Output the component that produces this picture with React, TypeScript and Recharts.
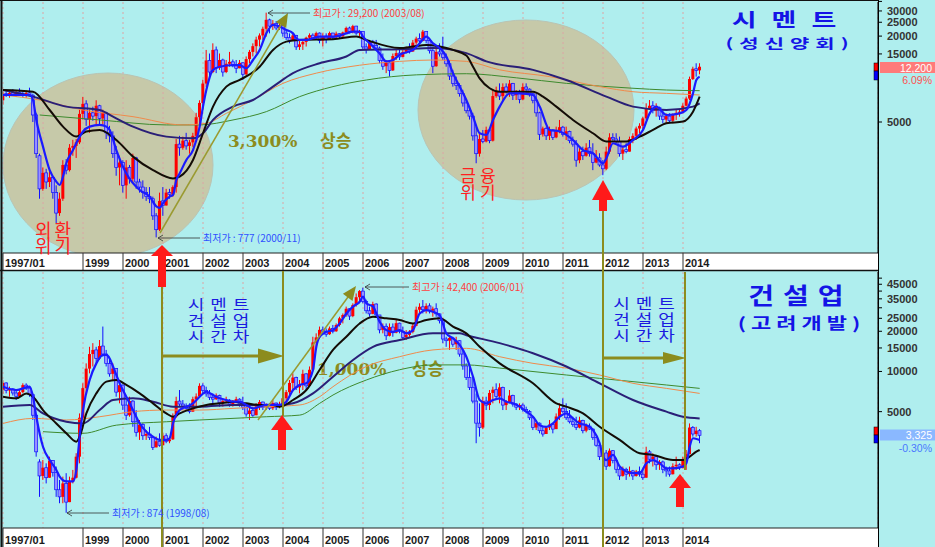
import React from 'react';
import { Bar, CartesianGrid, ComposedChart, Line, XAxis, YAxis } from 'recharts';

// months since 1997/01 on the x axis
const years = [1997, 1998, 1999, 2000, 2001, 2002, 2003, 2004, 2005, 2006, 2007, 2008, 2009, 2010, 2011, 2012, 2013, 2014];
const yearTicks = years.map((y) => (y - 1997) * 12);

// 성신양회 monthly candles [open, high, low, close]
const cementOhlc: number[][] = [
  [7100,8300,6600,7900],[7900,8400,7500,7700],[7700,8200,7400,8000],[8000,8500,7600,7800],[7800,8300,7500,8100],[8100,8600,7700,7900],[7900,8200,7500,7700],[7700,8300,7400,8000],[8000,8700,7600,7700],[7700,7900,5000,5600],[5600,5800,2800,3000],[2900,3000,1450,1700],
  [1700,2400,1650,2200],[2200,2350,1700,1900],[1900,2300,1750,2050],[2050,2100,1450,1600],[1600,1800,980,1150],[1150,1600,1100,1450],[1450,2700,1400,2500],[2500,2750,2150,2300],[2300,3500,2250,3300],[3300,3750,2900,3400],[3400,3800,2800,3600],[3600,6100,3500,5700],
  [5700,7500,5200,6700],[6700,7100,4700,5200],[5200,6100,4200,5800],[5800,6400,5100,5500],[5500,7100,4700,6500],[6500,6600,4700,5300],[5300,6100,4800,5800],[5800,5900,3800,4200],[4200,4700,3600,4000],[4000,4300,2800,3000],[3000,3400,2100,2400],[2400,2900,1800,2600],
  [2600,2700,1600,1800],[1800,2700,1450,2400],[2400,2500,1850,2000],[2000,3000,1900,2800],[2800,2850,1700,1900],[1900,2000,1600,1750],[1750,1950,1450,1600],[1600,1750,1400,1500],[1500,1750,1350,1450],[1450,1500,1030,1100],[1100,1150,777,880],[880,1600,860,1400],
  [1400,1750,1100,1300],[1300,1700,1300,1600],[1600,1700,1450,1550],[1550,1800,1500,1750],[1750,3800,1600,3500],[3500,4000,2900,3300],[3300,3950,3200,3700],[3700,4200,3200,3400],[3400,3750,3000,3600],[3600,4200,3350,4000],[4000,5800,3700,5400],[5400,7100,4700,6800],
  [6800,9900,6100,9300],[9300,16000,8800,13500],[13500,15100,10400,11200],[11200,17800,11000,16000],[16000,16900,11000,12000],[12000,15100,11600,13600],[13600,13900,10400,11200],[11200,13600,11000,12800],[12800,15500,12200,13200],[13200,13700,12100,12400],[12400,13600,11000,11900],[11900,13600,11900,13000],
  [13000,13100,9850,10800],[10800,14400,10600,13800],[13800,16000,12900,15500],[15500,17800,14400,17000],[17000,19800,15100,18900],[18900,20900,16900,20200],[20200,23300,18800,22500],[22500,29200,19800,26000],[26000,26500,20900,23500],[23500,25900,22100,24500],[24500,25500,22000,22800],[22800,24600,22100,23800],
  [23800,23900,19800,21000],[21000,22100,18800,19500],[19500,20900,17800,18500],[18500,20900,18400,20200],[20200,20400,16000,16800],[16800,18800,16000,17500],[17500,18800,16000,18200],[18200,19800,16900,19500],[19500,20900,18800,20300],[20300,20900,18800,19400],[19400,21500,18800,21000],[21000,21200,17800,18600],
  [18600,20900,16900,20000],[20000,20900,17800,18900],[18900,21500,18800,21000],[21000,21100,18800,19600],[19600,21500,19300,20800],[20800,20900,19300,19900],[19900,21500,19800,21200],[21200,23300,20900,22800],[22800,23300,20900,21500],[21500,24000,20900,23500],[23500,23600,20400,21000],[21000,22100,19800,21600],
  [21600,21700,16000,16800],[16800,17800,15100,16200],[16200,18800,16000,18200],[18200,18800,16900,17200],[17200,18800,16000,16500],[16500,16900,12900,13500],[13500,15100,11600,12300],[12300,13600,11000,13000],[13000,13500,10400,11500],[11500,15100,11400,14500],[14500,16000,13600,15200],[15200,16000,13600,14300],
  [14300,16000,14200,15500],[15500,16900,15100,16300],[16300,17800,15100,15600],[15600,18800,15500,18000],[18000,19800,16900,19200],[19200,20900,17800,18500],[18500,22100,18400,21500],[21500,21600,17800,18600],[18600,18700,15100,15800],[15800,16900,11000,12300],[12300,16900,12200,15500],[15500,17800,14400,15000],
  [15000,19800,13600,14200],[14200,15100,12200,12800],[12800,13600,9850,10500],[10500,11600,8850,9300],[9300,10400,8380,9000],[9000,9330,7530,7900],[7900,8400,6410,6800],[6800,7130,5750,6000],[6000,6400,5200,5500],[5500,5800,3700,4000],[4000,4600,2570,3000],[3000,4170,2860,3800],
  [3800,4400,3550,3650],[3650,4640,3600,4400],[4400,4450,3550,3700],[3700,8380,3650,7600],[7600,8850,7400,8200],[8200,9330,7130,7600],[7600,9330,7100,8800],[8800,9330,7900,8200],[8200,9850,7500,9300],[9300,9400,7130,7700],[7700,8380,7130,8000],[8000,8400,6760,7200],
  [7200,9330,7100,8800],[8800,9330,7940,8500],[8500,8600,7530,7900],[7900,8000,6760,7100],[7100,7940,5450,5800],[5800,5900,3740,4100],[4100,4640,3950,4500],[4500,4640,3740,4000],[4000,4640,3740,4400],[4400,4450,3740,3900],[3900,4640,3850,4300],[4300,5170,4170,4600],
  [4600,4700,3950,4100],[4100,4640,3740,4300],[4300,4350,3550,3700],[3700,3950,3360,3500],[3500,3740,2430,2700],[2700,3360,2570,3100],[3100,3360,2710,2900],[2900,3550,2860,3300],[3300,3740,2860,3000],[3000,3550,2300,2600],[2600,3180,2570,2800],[2800,3020,2430,2500],
  [2500,2710,2120,2350],[2350,3360,2300,3100],[3100,4170,3000,3900],[3900,4170,3700,3800],[3800,4170,3550,3650],[3650,3950,2860,3000],[3000,3360,2710,3200],[3200,3550,3020,3100],[3100,3950,3100,3800],[3800,4170,3550,4000],[4000,4640,3740,4500],[4500,4900,4170,4700],
  [4700,5450,4400,5300],[5300,6760,5170,6200],[6200,7130,6070,6500],[6500,7000,5750,6000],[6000,6760,5450,6300],[6300,6410,5170,5500],[5500,6070,4900,5200],[5200,5750,4900,5500],[5500,5750,4900,5100],[5100,5750,4900,5600],[5600,6070,5170,5800],[5800,6070,5450,5900],
  [5900,6760,5750,6500],[6500,7530,6410,7300],[7300,10400,7130,10000],[10000,12200,9850,11800],[11800,12900,10400,11500],[11500,12900,10800,12200],
];

// moving averages: [month, value]
const cementMa5 = [[0,7730],[4,7730],[8,7730],[9,7130],[10,5170],[12,3360],[14,2300],[16,1910],[17,1810],[18,2070],[19,2570],[21,3180],[23,3950],[24,4290],[26,4640],[29,4770],[31,4640],[32,4400],[34,3180],[37,2180],[41,1670],[44,1500],[46,1280],[47,1250],[48,1350],[50,1500],[51,1540],[52,1960],[53,2180],[55,2710],[57,3180],[59,4640],[60,6410],[61,8380],[63,11600],[65,12200],[69,12500],[71,12500],[73,11900],[75,13600],[77,16000],[79,20900],[81,24000],[83,23300],[85,22100],[87,20900],[88,19300],[89,18800],[91,18800],[93,19300],[95,19800],[99,19800],[103,20900],[105,21500],[107,21500],[108,19800],[110,17800],[113,15100],[115,13300],[117,13600],[119,14800],[123,16000],[125,17800],[127,19800],[129,17800],[131,16500],[133,14400],[135,11000],[137,8850],[139,7130],[141,5450],[143,4170],[145,4060],[147,5170],[149,6410],[152,7940],[155,7940],[159,7730],[161,6410],[164,4400],[167,4290],[171,3740],[174,3180],[177,3020],[180,2570],[181,2780],[183,3550],[186,3360],[189,3740],[192,4400],[194,5750],[196,6410],[199,5600],[203,5750],[205,6070],[207,7940],[208,9850],[209,10400]];
const cementMa20 = [[0,8380],[9,8150],[14,6070],[18,4640],[22,3950],[25,4290],[29,4400],[34,3740],[39,2860],[45,2300],[51,2010],[53,2070],[57,2710],[60,4170],[63,6410],[67,8850],[71,9850],[77,12200],[81,16000],[85,18300],[89,18800],[99,19000],[106,19900],[109,18800],[119,16500],[123,16900],[127,17300],[131,16900],[135,16000],[139,14600],[141,12200],[143,10100],[146,8620],[149,8150],[154,8150],[159,8150],[162,7530],[166,6410],[171,5170],[177,4170],[181,3650],[187,3650],[191,3950],[195,4400],[199,4900],[204,5040],[207,5910],[209,7530]];
const cementMa60 = [[0,8380],[9,7530],[19,6410],[29,6070],[33,5450],[39,4640],[49,3950],[57,3850],[60,4170],[63,5170],[69,6410],[75,7130],[81,8850],[87,11000],[95,12900],[103,14400],[107,16000],[119,16200],[129,16500],[139,15200],[145,13300],[159,11600],[169,9850],[181,7530],[189,6410],[199,6070],[207,6410],[209,6760]];
const cementMa120 = [[0,7730],[11,7130],[24,6070],[39,5450],[54,4770],[61,4900],[67,5750],[75,7130],[84,9330],[94,11000],[107,12500],[119,13300],[129,13600],[139,13300],[149,11600],[164,10400],[179,8850],[189,8150],[199,7940],[209,7730]];
const cementMa240 = [[11,5600],[29,5170],[49,4770],[59,4770],[69,5170],[79,5910],[89,7530],[99,8850],[109,9850],[124,10700],[139,10900],[154,10200],[169,9330],[189,8620],[199,8380],[209,8290]];

// 고려개발 monthly candles [open, high, low, close]
const buildOhlc: number[][] = [
  [7300,8600,6800,8200],[8200,8300,6850,7200],[7200,7700,6470,7400],[7400,7500,6600,6900],[6900,7260,6110,6500],[6500,7260,6470,7000],[7000,8150,6850,7900],[7900,8150,7260,7500],[7500,7690,6470,6700],[6700,6850,4330,4700],[4700,4800,2300,2500],[2100,2200,1150,1650],
  [1650,2170,1540,1900],[1900,2050,1450,1600],[1600,2300,1600,2150],[2150,2170,1630,1750],[1750,1940,1150,1300],[1300,1540,1030,1150],[1150,1630,1030,1450],[1450,1730,874,1050],[1050,1630,1050,1500],[1500,1830,1450,1600],[1600,2440,1580,2300],[2300,4850,2050,4500],
  [4500,8150,4330,7500],[7500,11500,6850,10500],[10500,15300,9680,13500],[13500,16300,10900,14500],[14500,15300,11500,12500],[12500,17200,12200,15500],[15500,21700,12900,13500],[13500,14500,10900,11500],[11500,12900,9140,9600],[9600,11500,8630,10500],[10500,10600,6470,7000],[7000,8630,5770,7900],
  [7900,8000,5140,5600],[5600,6470,4330,4700],[4700,6470,4580,6000],[6000,6100,3850,4200],[4200,5140,3250,3500],[3500,4330,3070,4000],[4000,4100,3070,3300],[3300,3640,3070,3400],[3400,3850,3070,3200],[3200,3250,2580,2700],[2700,3250,2700,3000],[3000,3440,2730,2800],
  [2800,3440,2800,3300],[3300,3440,2900,3000],[3000,3250,2900,3100],[3100,4850,3070,4600],[4600,6470,4500,6000],[6000,7260,5450,5700],[5700,6110,5140,5500],[5500,5770,5140,5300],[5300,5770,4850,5000],[5000,6470,5000,6200],[6200,6850,5450,6500],[6500,8150,6400,7800],
  [7800,8150,6850,7200],[7200,7690,6470,6800],[6800,7260,6110,6400],[6400,6850,5770,6200],[6200,6850,6110,6600],[6600,6700,5450,5800],[5800,6290,5450,6000],[6000,6470,5770,6100],[6100,6200,5450,5700],[5700,6110,5450,5900],[5900,6470,5770,6200],[6200,6300,5450,5700],
  [5700,6470,5140,5400],[5400,5770,4580,4800],[4800,5450,4330,5100],[5100,5450,4580,4700],[4700,5770,4700,5500],[5500,6110,5140,5900],[5900,5950,5140,5400],[5400,5770,5140,5600],[5600,5770,5140,5300],[5300,6110,5140,5800],[5800,5850,5140,5400],[5400,5940,5300,5700],
  [5700,6470,5450,6300],[6300,7260,5770,7000],[7000,8630,6470,8200],[8200,9680,7260,9000],[9000,9140,7260,7600],[7600,8630,6850,8000],[8000,10300,7260,9600],[9600,9680,7260,7800],[7800,10900,7700,10300],[10300,18200,10000,16500],[16500,19300,15300,18000],[18000,21700,17500,20500],
  [20500,21700,19300,20000],[20000,21000,18200,19000],[19000,21700,18800,21000],[21000,22300,19300,20000],[20000,22900,19800,22300],[22300,25700,21700,25000],[25000,27200,22900,26500],[26500,30600,25700,29500],[29500,29700,24300,26000],[26000,32400,25500,31500],[31500,38400,30600,36000],[36000,40700,32400,40000],
  [40000,42400,32400,33500],[33500,34500,27200,28500],[28500,30600,25700,27000],[27000,33300,26800,32000],[32000,32400,25700,26500],[26500,26500,19300,20500],[20500,22900,19300,21800],[21800,22900,17200,18500],[18500,22900,18300,21500],[21500,22900,18200,19500],[19500,24300,19300,23000],[23000,23200,19300,20000],
  [20000,21700,17200,18000],[18000,20400,17200,18800],[18800,20400,18200,19800],[19800,22900,19300,22000],[22000,30600,21800,29000],[29000,32400,27200,30500],[30500,34300,27200,29000],[29000,32400,27200,31000],[31000,32400,27200,28500],[28500,30600,25700,29500],[29500,32400,25700,27000],[27000,27200,22900,24000],
  [24000,24100,16300,17500],[17500,18200,15300,17000],[17000,18200,14500,17800],[17800,18200,15300,16000],[16000,18200,14500,17000],[17000,17100,12900,13500],[13500,14500,10300,11000],[11000,11500,8630,9000],[9000,10900,7260,7600],[7600,9140,5770,6000],[6000,6850,2900,4100],[4100,5770,3250,3800],
  [3800,6470,3700,6000],[6000,6470,5140,5600],[5600,7260,5140,6900],[6900,7690,5770,7300],[7300,8150,6110,6500],[6500,8150,5770,7600],[7600,7700,5140,5600],[5600,6110,5140,5900],[5900,7260,5770,6600],[6600,6700,5450,5700],[5700,5770,5140,5400],[5400,5770,5140,5600],
  [5600,5770,5000,5200],[5200,5450,4850,5000],[5000,5140,4330,4500],[4500,4580,3640,3800],[3800,4330,3640,4100],[4100,4150,3440,3600],[3600,3850,3250,3400],[3400,3850,3400,3800],[3800,4330,3640,4000],[4000,4080,3440,3700],[3700,4850,3700,4600],[4600,5770,4330,5300],
  [5300,6290,4900,5000],[5000,5770,4330,4500],[4500,5140,4080,4200],[4200,4580,3850,4000],[4000,4580,3640,3800],[3800,4580,3750,4300],[4300,4350,3440,3600],[3600,4080,3500,3900],[3900,4080,3640,3700],[3700,3750,3070,3200],[3200,3250,2730,2800],[2800,2900,2170,2300],
  [2300,2580,1370,2450],[2450,2580,1830,1950],[1950,2650,1940,2550],[2550,2580,2050,2150],[2150,2200,1730,1850],[1850,1940,1540,1650],[1650,1940,1630,1850],[1850,1900,1540,1700],[1700,1940,1630,1800],[1800,1830,1540,1650],[1650,1830,1630,1780],[1780,1940,1630,1700],
  [1700,1830,1540,1600],[1600,2730,1600,2500],[2500,2580,2050,2200],[2200,2440,1940,2300],[2300,2350,1830,2000],[2000,2170,1830,2100],[2100,2150,1730,1850],[1850,1940,1630,1800],[1800,1940,1630,1700],[1700,2050,1690,1950],[1950,2300,1830,2000],[2000,2050,1830,1900],
  [1900,2300,1880,2200],[2200,2580,1830,2400],[2400,4080,2400,3800],[3800,3900,3250,3400],[3400,3850,3250,3600],[3600,3700,2900,3325],
];

const buildMa5 = [[0,7690],[4,7260],[8,7690],[9,6470],[10,4580],[12,2730],[14,2170],[16,1830],[17,1630],[19,1500],[21,1500],[22,1830],[23,3250],[24,5140],[26,8630],[28,11500],[30,13300],[31,13300],[32,12500],[33,10900],[35,8150],[37,6470],[39,5140],[41,4080],[43,3540],[45,3250],[47,3070],[49,3070],[50,3160],[51,4080],[53,5140],[55,5450],[57,5770],[59,6470],[61,7050],[63,6660],[65,6290],[67,6110],[69,5940],[71,5940],[73,5610],[75,5290],[77,5450],[79,5610],[83,5610],[85,5940],[87,7260],[89,7920],[91,8150],[93,10300],[94,15300],[95,18200],[97,19800],[99,20400],[101,22900],[103,27200],[105,30600],[107,33300],[108,36300],[109,32400],[111,30600],[113,23600],[115,20400],[117,19800],[119,20400],[121,19300],[123,20400],[125,27200],[127,28800],[129,28000],[131,26400],[133,19300],[135,17700],[137,15800],[139,12900],[141,9140],[143,6110],[145,5770],[147,6110],[149,6290],[151,5940],[153,5770],[155,5450],[157,5000],[159,4580],[161,3960],[163,3850],[165,4080],[167,4580],[169,4850],[171,4450],[173,4080],[175,3960],[177,3640],[179,2900],[180,2300],[181,2170],[183,2370],[185,1940],[187,1780],[189,1730],[191,1730],[193,2050],[195,2170],[197,2050],[199,1880],[201,1880],[204,1940],[205,2050],[206,2730],[207,3160],[209,3070]];
const buildMa20 = [[0,6470],[4,6290],[7,6850],[9,6470],[12,5140],[16,4080],[19,3440],[22,2980],[23,3250],[25,4850],[28,6850],[31,8390],[34,8630],[37,7920],[41,6850],[45,5770],[49,4850],[51,4580],[53,4850],[57,5290],[61,5610],[65,5770],[69,5940],[73,5770],[77,5610],[81,5610],[83,5450],[87,6110],[91,7260],[95,10300],[99,14500],[103,18200],[107,22900],[111,25700],[115,25000],[119,24300],[123,22900],[127,24300],[131,25000],[135,21700],[139,19300],[143,15300],[149,11500],[159,8150],[166,5770],[169,5450],[174,4850],[179,3850],[185,3070],[191,2440],[195,2370],[201,2170],[204,2170],[206,2300],[208,2510],[209,2580]];
const buildMa60 = [[0,5450],[8,5610],[12,4850],[19,4200],[24,4080],[29,5140],[33,6110],[39,6290],[45,5940],[51,5450],[59,5450],[69,5610],[83,5610],[87,5770],[93,6850],[99,9140],[105,12200],[111,15300],[119,17200],[129,19300],[137,19300],[139,18700],[149,16300],[159,13700],[169,10900],[179,8150],[189,6110],[199,5000],[204,4580],[209,4450]];
const buildMa120 = [[0,4080],[9,4450],[19,4330],[29,4580],[39,5000],[49,5140],[59,5140],[69,5290],[79,5450],[89,5610],[95,6470],[99,7690],[109,10900],[119,12900],[129,14500],[139,14900],[149,12900],[159,11500],[169,10600],[179,9410],[189,8150],[199,7470],[209,6850]];
const buildMa240 = [[12,3540],[24,3440],[34,3960],[49,4200],[59,4330],[79,4580],[89,4710],[95,5770],[99,6660],[109,8630],[119,10300],[129,11200],[139,11200],[149,10600],[159,9990],[169,9410],[179,8880],[189,8390],[199,7920],[209,7470]];

const cementTicks = [5000, 15000, 20000, 25000, 30000];
const cementMinor = [35000];
const buildTicks = [5000, 10000, 15000, 20000, 25000, 35000, 45000];
const buildMinor = [30000, 40000, 50000];

const makeRows = (ohlc: number[][], lines: Record<string, number[][]>) => {
  const rows: any[] = ohlc.map(([o, h, l, c], m) => ({ m, o, h, l, c, range: [l, h] }));
  Object.entries(lines).forEach(([key, pts]) => pts.forEach(([m, v]) => { rows[m][key] = v; }));
  return rows;
};

const cementRows = makeRows(cementOhlc, { ma5: cementMa5, ma20: cementMa20, ma60: cementMa60, ma120: cementMa120, ma240: cementMa240 });
const buildRows = makeRows(buildOhlc, { ma5: buildMa5, ma20: buildMa20, ma60: buildMa60, ma120: buildMa120, ma240: buildMa240 });

const KR = "'Noto Sans CJK KR', sans-serif";
const OLIVE = '#8c8c1e';

function Candle(props: any) {
  const { x, y, width, height, payload } = props;
  if (!payload || x == null) return <g />;
  const { o, h, l, c } = payload;
  const top = Math.min(y, y + height);
  const hh = Math.abs(height);
  const span = Math.log(h) - Math.log(l);
  const at = (v: number) => top + (span > 0 ? (hh * (Math.log(h) - Math.log(v))) / span : 0);
  const up = c >= o;
  const b1 = at(Math.max(o, c));
  const b2 = at(Math.min(o, c));
  const cx = x + width / 2;
  return (
    <g>
      <line x1={cx} x2={cx} y1={top} y2={top + hh} stroke={up ? '#ff0000' : '#1010ff'} strokeWidth={1} />
      <rect x={x} y={b1} width={width} height={Math.max(1, b2 - b1)} fill={up ? '#ff0000' : '#9a92ff'} stroke={up ? 'none' : '#1010ff'} strokeWidth={0.7} />
    </g>
  );
}

function YearTick(props: any) {
  const { x, y, payload, h } = props;
  const yr = 1997 + payload.value / 12;
  if (yr === 1998) return <g />;
  return (
    <g>
      <line x1={x} x2={x} y1={y} y2={y + h} stroke="#333" />
      <text x={x + 2} y={y + h - 3} fontSize={11} fontWeight="bold" fill="#1a1a1a" fontFamily="'Liberation Sans', Arial">
        {yr === 1997 ? '1997/01' : String(yr)}
      </text>
    </g>
  );
}

function Panel({ rows, domain, ticks, minor, height, stripH }: any) {
  return (
    <ComposedChart width={935} height={height} data={rows} margin={{ top: 2, right: 0, bottom: 0, left: 3 }}>
      <CartesianGrid horizontal={false} stroke="#dca4a4" strokeDasharray="2 3" />
      <XAxis
        dataKey="m"
        type="number"
        domain={[0, 262.5]}
        allowDataOverflow
        ticks={yearTicks}
        interval={0}
        height={stripH}
        tickSize={0}
        tickMargin={0}
        tickLine={false}
        axisLine={{ stroke: '#222' }}
        tick={(p: any) => <YearTick {...p} h={stripH} />}
      />
      <YAxis
        orientation="right"
        scale="log"
        domain={domain}
        allowDataOverflow
        ticks={[...ticks, ...minor]}
        interval={0}
        width={57}
        axisLine={{ stroke: '#000' }}
        tickLine={{ stroke: '#000' }}
        tickSize={4}
        tickMargin={5}
        tick={{ fontSize: 11, fill: '#333', fontWeight: 'bold' }}
        tickFormatter={(v: number) => (minor.includes(v) ? '' : String(v))}
      />
      <Bar dataKey="range" barSize={3} shape={Candle} isAnimationActive={false} />
      <Line dataKey="ma240" stroke="#3e8a2e" strokeWidth={1} dot={false} connectNulls type="monotone" isAnimationActive={false} />
      <Line dataKey="ma120" stroke="#f08a4b" strokeWidth={1} dot={false} connectNulls type="monotone" isAnimationActive={false} />
      <Line dataKey="ma60" stroke="#2a1f77" strokeWidth={2} dot={false} connectNulls type="monotone" isAnimationActive={false} />
      <Line dataKey="ma20" stroke="#140c06" strokeWidth={2} dot={false} connectNulls type="monotone" isAnimationActive={false} />
      <Line dataKey="ma5" stroke="#1a1aff" strokeWidth={2.2} dot={false} connectNulls type="monotone" isAnimationActive={false} />
    </ComposedChart>
  );
}

function RedArrow({ x, tip, neck, end }: { x: number; tip: number; neck: number; end: number }) {
  return (
    <g fill="#ff1a1a">
      <polygon points={`${x - 11},${neck} ${x},${tip} ${x + 11},${neck}`} />
      <rect x={x - 4} y={neck} width={8} height={end - neck} />
    </g>
  );
}

function Note({ x, y, to, text, color }: { x: number; y: number; to: number; text: string; color: string }) {
  return (
    <g>
      <line x1={to} x2={x - 3} y1={y} y2={y} stroke="#333" strokeWidth={0.8} />
      <polyline points={`${to + 5},${y - 3} ${to},${y} ${to + 5},${y + 3}`} fill="none" stroke="#333" strokeWidth={0.8} />
      <text x={x} y={y + 4} fontSize={10} fill={color} fontFamily={KR}>{text}</text>
    </g>
  );
}

// one wrapped text node, one word per line
function Stack({ left, top, width, size, spacing, lineH, color, squash = 1, text }: any) {
  return (
    <div
      style={{
        position: 'absolute', left, top, width, fontFamily: KR, fontSize: size, letterSpacing: spacing,
        lineHeight: `${lineH}px`, color, textAlign: 'center', wordBreak: 'keep-all',
        transform: `scaleY(${squash})`, transformOrigin: 'top left',
      }}
    >
      {text}
    </div>
  );
}

// title drawn flatter than the font, like the original
function Title({ x, y, size, spacing, squash, text }: any) {
  return (
    <text transform={`translate(${x},${y}) scale(1,${squash})`} x={0} y={0} textAnchor="middle" fontSize={size} letterSpacing={spacing}>
      {text}
    </text>
  );
}

export default function App() {
  return (
    <div style={{ position: 'absolute', left: 0, top: 0, width: 935, height: 547, background: '#afeeee', overflow: 'hidden', fontFamily: "'Liberation Sans', Arial, sans-serif" }}>
      <svg width={935} height={547} style={{ position: 'absolute', left: 0, top: 0 }}>
        <ellipse cx={108} cy={165} rx={105} ry={92} fill="#c6c9a9" stroke="#b9c4b4" />
        <ellipse cx={526} cy={110} rx={108} ry={90} fill="#c6c9a9" stroke="#b9c4b4" />
        <rect x={3} y={253} width={875} height={17} fill="#fff" />
        <rect x={3} y={528} width={875} height={19} fill="#fff" />
        <g fontFamily="'DejaVu Serif', 'Noto Sans CJK KR', serif" fontWeight="bold" fill={OLIVE} fontSize={17}>
          <text x={228} y={147}>3,300%</text>
          <text x={320} y={147} fontFamily={KR}>상승</text>
          <text x={317} y={375}>1,000%</text>
          <text x={412} y={375} fontFamily={KR}>상승</text>
        </g>
      </svg>
      <div style={{ position: 'absolute', left: 0, top: 0 }}>
        <Panel rows={cementRows} domain={[604, 34670]} ticks={cementTicks} minor={cementMinor} height={270} stripH={17} />
      </div>
      <div style={{ position: 'absolute', left: 0, top: 270 }}>
        <Panel rows={buildRows} domain={[672, 55600]} ticks={buildTicks} minor={buildMinor} height={277} stripH={19} />
      </div>
      <svg width={935} height={547} style={{ position: 'absolute', left: 0, top: 0, pointerEvents: 'none' }}>
        {/* frame */}
        <line x1={1.5} x2={1.5} y1={0} y2={547} stroke="#111" strokeWidth={2} />
        <line x1={0} x2={878} y1={0.5} y2={0.5} stroke="#111" />
        <line x1={0} x2={878} y1={270.5} y2={270.5} stroke="#111" strokeWidth={1.5} />
        <line x1={878.5} x2={878.5} y1={0} y2={547} stroke="#000" />

        {/* olive guides */}
        <g stroke={OLIVE} strokeWidth={2}>
          <line x1={162} x2={162} y1={286} y2={547} />
          <line x1={603} x2={603} y1={211} y2={547} />
          <line x1={283} x2={283} y1={271} y2={416} />
          <line x1={685} x2={685} y1={272} y2={470} />
          <line x1={162} x2={262} y1={356} y2={356} strokeWidth={3} />
          <line x1={603} x2={665} y1={358} y2={358} strokeWidth={3} />
          <line x1={160} x2={281} y1={233} y2={25} stroke="#9a9a30" strokeWidth={1.5} />
          <line x1={258} x2={348} y1={420} y2={297} stroke="#9a9a30" strokeWidth={1.5} />
        </g>
        <g fill={OLIVE}>
          <polygon points="258,348.5 284,356 258,363.5" />
          <polygon points="663,352 686,358 663,364" />
          <polygon points="288,13 286.2,28.1 275.8,22.1" />
          <polygon points="356,286 352.5,300.9 342.9,293.7" />
        </g>

        <RedArrow x={162} tip={245} neck={256} end={287} />
        <RedArrow x={603} tip={180} neck={200} end={211} />
        <RedArrow x={282} tip={415} neck={430} end={450} />
        <RedArrow x={680} tip={474} neck={488} end={507} />

        <Note x={313} y={13} to={268} text="최고가 : 29,200 (2003/08)" color="#ff4040" />
        <Note x={203} y={238} to={158} text="최저가 : 777 (2000/11)" color="#3050ff" />
        <Note x={112} y={513} to={67} text="최저가 : 874 (1998/08)" color="#3050ff" />
        <Note x={412} y={287} to={365} text="최고가 : 42,400 (2006/01)" color="#ff4040" />

        <g fontFamily={KR} fill="#1414e6" fontWeight="bold">
          <Title x={791.5} y={27} size={27} spacing={15} squash={0.7} text="시멘트" />
          <Title x={790} y={48} size={21} spacing={6} squash={0.62} text="(성신양회)" />
          <Title x={800.5} y={303.5} size={28} spacing={9} squash={0.8} text="건설업" />
          <Title x={801.5} y={329} size={22} spacing={5} squash={0.72} text="(고려개발)" />
        </g>

        {/* last price boxes */}
        <rect x={874} y={63} width={4} height={8} fill="#ff0000" stroke="#000" strokeWidth={0.5} />
        <rect x={874} y={71} width={4} height={9} fill="#0000ff" stroke="#000" strokeWidth={0.5} />
        <rect x={880} y={62} width={55} height={11} fill="#ff7a7a" />
        <text x={932} y={71.5} textAnchor="end" fontSize={10.5} fill="#fff">12,200</text>
        <text x={932} y={84} textAnchor="end" fontSize={10.5} fill="#ff5050">6.09%</text>
        <rect x={874} y={427} width={4} height={8} fill="#ff0000" stroke="#000" strokeWidth={0.5} />
        <rect x={874} y={435} width={4} height={8} fill="#0000ff" stroke="#000" strokeWidth={0.5} />
        <rect x={880} y={429.5} width={55} height={11} fill="#8ab8ff" />
        <text x={932} y={439} textAnchor="end" fontSize={10.5} fill="#fff">3,325</text>
        <text x={932} y={451.5} textAnchor="end" fontSize={10.5} fill="#4a78ff">-0.30%</text>
      </svg>

      <Stack left={31.5} top={222} width={46} size={18} spacing={3} lineH={15.5} color="#ff2020" text="외환 위기" />
      <Stack left={457} top={165.5} width={46} size={17} spacing={4} lineH={17} color="#ff2020" text="금융 위기" />
      <Stack left={181.5} top={296} width={80} size={18} spacing={6} lineH={20} squash={0.8} color="#1a1ae0" text="시멘트 건설업 시간차" />
      <Stack left={607} top={294.5} width={80} size={18} spacing={6} lineH={20} squash={0.8} color="#1a1ae0" text="시멘트 건설업 시간차" />
    </div>
  );
}
